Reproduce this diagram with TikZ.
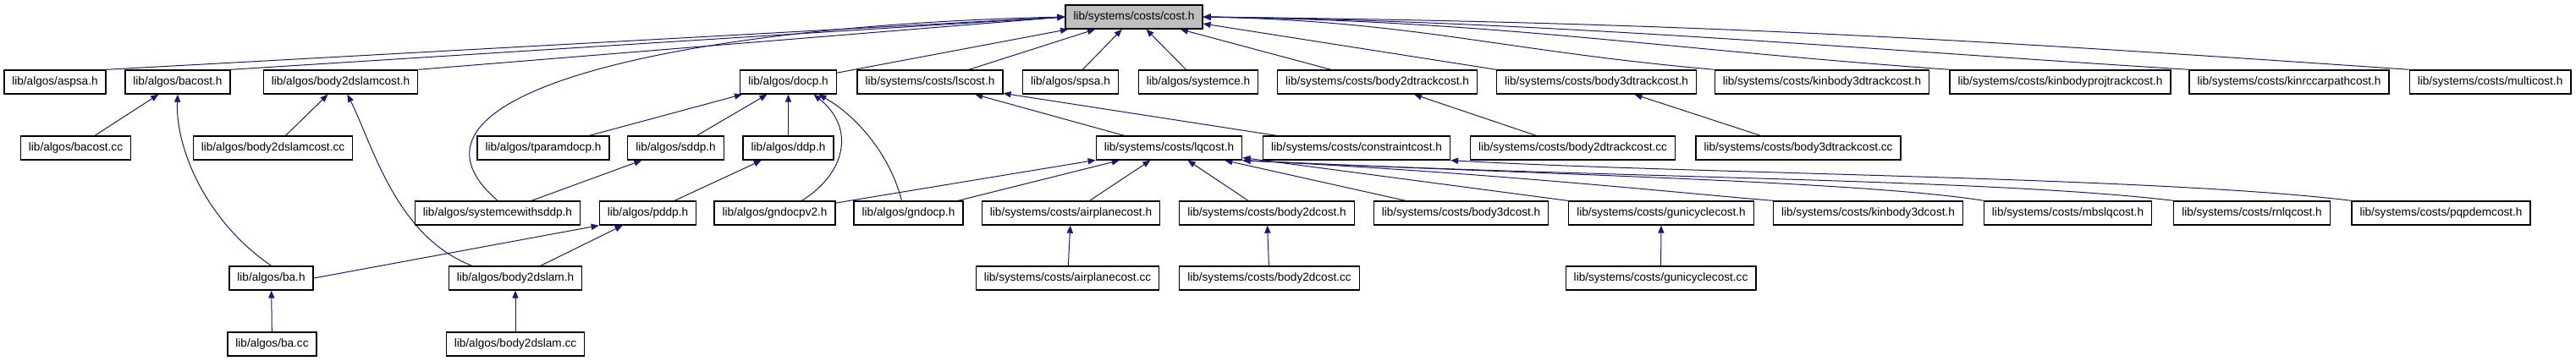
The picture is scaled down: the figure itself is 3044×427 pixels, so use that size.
\documentclass[tikz,border=0pt]{standalone}
\usepackage{fontspec}
\setmainfont{Liberation Sans}
\usetikzlibrary{arrows.meta,backgrounds}
\definecolor{docBlue}{HTML}{191970}
\definecolor{docGray}{HTML}{BFBFBF}

\begin{document}
\begin{tikzpicture}[x=0.5pt, y=-0.5pt, font=\fontsize{6.8}{8}\selectfont,
  >={Triangle[length=4.5pt,width=3.6pt]},
  file/.style={draw=black, line width=0.7pt, fill=white, inner xsep=4.75pt, inner ysep=0pt, minimum height=14pt},
  root/.style={file, fill=docGray},
  dep/.style={docBlue, line width=0.5pt, ->}]
\useasboundingbox (0,0) rectangle (3044,427);
\node[root] (costH) at (1340,20) {lib/systems/costs/cost.h};
\node[file] (aspsaH) at (65,97) {lib/algos/aspsa.h};
\node[file] (bacostH) at (210,97) {lib/algos/bacost.h};
\node[file] (body2dslamcostH) at (402.5,97) {lib/algos/body2dslamcost.h};
\node[file] (docpH) at (931.5,97) {lib/algos/docp.h};
\node[file] (lscostH) at (1099,97) {lib/systems/costs/lscost.h};
\node[file] (spsaH) at (1265,97) {lib/algos/spsa.h};
\node[file] (systemceH) at (1416,97) {lib/algos/systemce.h};
\node[file] (body2dtrackcostH) at (1627.5,97) {lib/systems/costs/body2dtrackcost.h};
\node[file] (body3dtrackcostH) at (1886.5,97) {lib/systems/costs/body3dtrackcost.h};
\node[file] (kinbody3dtrackcostH) at (2153,97) {lib/systems/costs/kinbody3dtrackcost.h};
\node[file] (kinbodyprojtrackcostH) at (2434.5,97) {lib/systems/costs/kinbodyprojtrackcost.h};
\node[file] (kinrccarpathcostH) at (2705,97) {lib/systems/costs/kinrccarpathcost.h};
\node[file] (multicostH) at (2942.5,97) {lib/systems/costs/multicost.h};
\node[file] (bacostCC) at (89.5,175) {lib/algos/bacost.cc};
\node[file] (body2dslamcostCC) at (322.5,175) {lib/algos/body2dslamcost.cc};
\node[file] (tparamdocpH) at (642,175) {lib/algos/tparamdocp.h};
\node[file] (sddpH) at (798.5,175) {lib/algos/sddp.h};
\node[file] (ddpH) at (931.5,175) {lib/algos/ddp.h};
\node[file] (lqcostH) at (1381.5,175) {lib/systems/costs/lqcost.h};
\node[file] (constraintcostH) at (1603,175) {lib/systems/costs/constraintcost.h};
\node[file] (body2dtrackcostCC) at (1858.5,175) {lib/systems/costs/body2dtrackcost.cc};
\node[file] (body3dtrackcostCC) at (2125,175) {lib/systems/costs/body3dtrackcost.cc};
\node[file] (systemcewithsddpH) at (588,252) {lib/algos/systemcewithsddp.h};
\node[file] (pddpH) at (765.5,252) {lib/algos/pddp.h};
\node[file] (gndocpv2H) at (915.5,252) {lib/algos/gndocpv2.h};
\node[file] (gndocpH) at (1073.5,252) {lib/algos/gndocp.h};
\node[file] (airplanecostH) at (1265.5,252) {lib/systems/costs/airplanecost.h};
\node[file] (body2dcostH) at (1497,252) {lib/systems/costs/body2dcost.h};
\node[file] (body3dcostH) at (1726.5,252) {lib/systems/costs/body3dcost.h};
\node[file] (gunicyclecostH) at (1963,252) {lib/systems/costs/gunicyclecost.h};
\node[file] (kinbody3dcostH) at (2207.5,252) {lib/systems/costs/kinbody3dcost.h};
\node[file] (mbslqcostH) at (2443.5,252) {lib/systems/costs/mbslqcost.h};
\node[file] (rnlqcostH) at (2661,252) {lib/systems/costs/rnlqcost.h};
\node[file] (pqpdemcostH) at (2884.5,252) {lib/systems/costs/pqpdemcost.h};
\node[file] (baH) at (320.5,329) {lib/algos/ba.h};
\node[file] (body2dslamH) at (609,329) {lib/algos/body2dslam.h};
\node[file] (airplanecostCC) at (1261.5,329) {lib/systems/costs/airplanecost.cc};
\node[file] (body2dcostCC) at (1500,329) {lib/systems/costs/body2dcost.cc};
\node[file] (gunicyclecostCC) at (1962.5,329) {lib/systems/costs/gunicyclecost.cc};
\node[file] (baCC) at (321.5,407) {lib/algos/ba.cc};
\node[file] (body2dslamCC) at (609,407) {lib/algos/body2dslam.cc};
\begin{scope}[on background layer]
\draw[dep] (aspsaH.north east) -- (costH.west);
\draw[dep] (bacostH.north east) -- (costH.west);
\draw[dep] (body2dslamcostH.north east) -- (costH.west);
\draw[dep] (systemcewithsddpH.north) .. controls +(-148,-128) and +(-450,10) .. (costH.west);
\draw[dep] (docpH) -- (costH);
\draw[dep] (lscostH) -- (costH);
\draw[dep] (spsaH) -- (costH);
\draw[dep] (systemceH) -- (costH);
\draw[dep] (body2dtrackcostH) -- (costH);
\draw[dep] (body3dtrackcostH.north west) -- ([yshift=-4pt]costH.east);
\draw[dep] (kinbody3dtrackcostH.north west) .. controls +(-250,-22) and +(250,5) .. (costH.east);
\draw[dep] (kinbodyprojtrackcostH.north west) .. controls +(-350,-25) and +(350,5) .. (costH.east);
\draw[dep] (kinrccarpathcostH.north west) .. controls +(-400,-25) and +(400,5) .. (costH.east);
\draw[dep] (multicostH.north west) .. controls +(-550,-38) and +(550,6) .. (costH.east);
\draw[dep] (bacostCC) -- (bacostH);
\draw[dep] (baH.north) .. controls +(-80,-55) and +(-3,60) .. (bacostH.south);
\draw[dep] (body2dslamcostCC) -- (body2dslamcostH);
\draw[dep] ([xshift=14pt]body2dslamH.north west) .. controls +(-90,-35) and +(30,60) .. ([xshift=4pt]body2dslamcostH.south);
\draw[dep] (tparamdocpH) -- (docpH);
\draw[dep] (sddpH) -- (docpH);
\draw[dep] (ddpH) -- (docpH);
\draw[dep] ([xshift=16pt]gndocpv2H.north) .. controls +(53,-33) and +(49,39) .. ([xshift=15pt]docpH.south);
\draw[dep] ([xshift=-4pt]gndocpH.north) .. controls +(-15,-58) and +(42,24) .. ([xshift=18pt]docpH.south);
\draw[dep] (systemcewithsddpH) -- (sddpH);
\draw[dep] (pddpH) -- (ddpH);
\draw[dep] (baH.east) -- (pddpH.south west);
\draw[dep] (body2dslamH) -- (pddpH);
\draw[dep] (baCC) -- (baH);
\draw[dep] (body2dslamCC) -- (body2dslamH);
\draw[dep] (lqcostH) -- (lscostH);
\draw[dep] (constraintcostH) -- (lscostH);
\draw[dep] (gndocpv2H) -- (lqcostH);
\draw[dep] (gndocpH) -- (lqcostH);
\draw[dep] (airplanecostH) -- (lqcostH);
\draw[dep] (body2dcostH) -- (lqcostH);
\draw[dep] (body3dcostH) -- (lqcostH);
\draw[dep] (gunicyclecostH) -- (lqcostH);
\draw[dep] (kinbody3dcostH.north west) .. controls +(-100,-8) and +(300,15) .. (lqcostH.south east);
\draw[dep] (mbslqcostH.north west) .. controls +(-143,-23) and +(331,16) .. (lqcostH.south east);
\draw[dep] (rnlqcostH.north west) .. controls +(-217,-26) and +(431,21) .. (lqcostH.south east);
\draw[dep] (pqpdemcostH.north west) .. controls +(-229,-28) and +(286,16) .. (constraintcostH.south east);
\draw[dep] (airplanecostCC) -- (airplanecostH);
\draw[dep] (body2dcostCC) -- (body2dcostH);
\draw[dep] (gunicyclecostCC) -- (gunicyclecostH);
\draw[dep] (body2dtrackcostCC) -- (body2dtrackcostH);
\draw[dep] (body3dtrackcostCC) -- (body3dtrackcostH);
\end{scope}
\end{tikzpicture}
\end{document}
